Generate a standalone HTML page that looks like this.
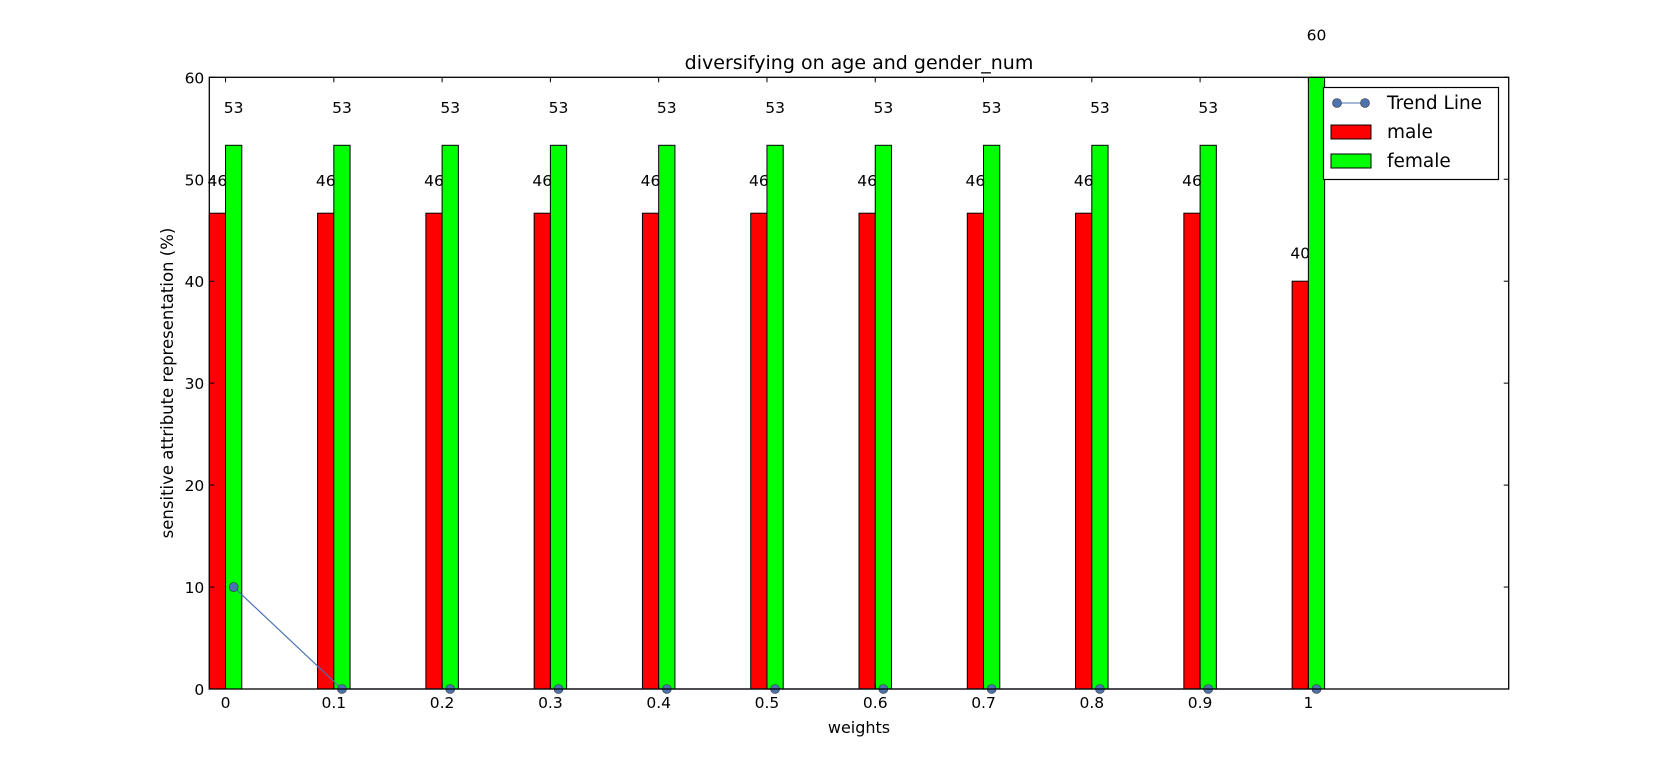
<!DOCTYPE html>
<html><head><meta charset="utf-8"><style>
body{margin:0;background:#fff}
svg{display:block;font-family:"DejaVu Sans","Liberation Sans",sans-serif}
</style></head><body>
<svg id="chart" width="1675" height="765" xmlns="http://www.w3.org/2000/svg">
<rect width="1675" height="765" fill="#fff"/>
<g id="plot"></g>
<text x="859" y="69" font-size="19" text-anchor="middle">diversifying on age and gender_num</text>
<text x="859" y="733" font-size="16" text-anchor="middle">weights</text>
<text transform="translate(173,383) rotate(-90)" font-size="16.5" text-anchor="middle">sensitive attribute representation (%)</text>
<g>
<rect x="1323.5" y="87.5" width="175" height="92" fill="#fff" stroke="#000" stroke-width="1.2"/>
<g>
<line x1="1337" y1="103" x2="1365" y2="103" stroke="#4c72b0" stroke-width="1"/>
<circle cx="1337" cy="103" r="4.5" fill="#4c72b0" stroke="#333" stroke-width="0.6"/>
<circle cx="1365" cy="103" r="4.5" fill="#4c72b0" stroke="#333" stroke-width="0.6"/>
<text x="1387" y="109" font-size="18.5">Trend Line</text></g>
<g>
<rect x="1331" y="125" width="40" height="14" fill="#ff0000" stroke="#000"/>
<text x="1387" y="138" font-size="18.5">male</text></g>
<g>
<rect x="1331" y="154" width="40" height="14" fill="#00ff00" stroke="#000"/>
<text x="1387" y="167" font-size="18.5">female</text></g>
</g>
</svg>
<script>
const categories=["0","0.1","0.2","0.3","0.4","0.5","0.6","0.7","0.8","0.9","1"];
const maleValues=[46.67,46.67,46.67,46.67,46.67,46.67,46.67,46.67,46.67,46.67,40];
const femaleValues=[53.33,53.33,53.33,53.33,53.33,53.33,53.33,53.33,53.33,53.33,60];
const trendValues=[10,0,0,0,0,0,0,0,0,0,0];
const yTicks=[0,10,20,30,40,50,60];

const NS="http://www.w3.org/2000/svg";
const L=209.3,R=1508.7,T=77.3,B=689;
const XMIN=0,XMAX=1.2,YMIN=0,YMAX=60,BW=0.015;
const xs=v=>L+(v-XMIN)/(XMAX-XMIN)*(R-L);
const ys=v=>B-(v-YMIN)/(YMAX-YMIN)*(B-T);
const g=document.getElementById('plot');
function mk(tag,attrs,parent){const e=document.createElementNS(NS,tag);for(const k in attrs)e.setAttribute(k,attrs[k]);(parent||g).appendChild(e);return e;}

categories.forEach((c,i)=>{
  const x0=i*0.1;
  const m=mk('rect',{x:xs(x0),y:ys(maleValues[i]),width:xs(x0+BW)-xs(x0),height:ys(0)-ys(maleValues[i]),fill:'#ff0000',stroke:'#000','stroke-width':1});
  
  
  const f=mk('rect',{x:xs(x0+BW),y:ys(femaleValues[i]),width:xs(x0+2*BW)-xs(x0+BW),height:ys(0)-ys(femaleValues[i]),fill:'#00ff00',stroke:'#000','stroke-width':1});
  
  
  const ml=mk('text',{x:xs(x0+BW/2),y:ys(maleValues[i]*1.07)+6,'font-size':15.5,'text-anchor':'middle'});
  ml.textContent=String(Math.floor(maleValues[i]));
  
  
  const fl=mk('text',{x:xs(x0+1.5*BW),y:ys(femaleValues[i]*1.07)+6,'font-size':15.5,'text-anchor':'middle'});
  fl.textContent=String(Math.floor(femaleValues[i]));
  
  
});
const pts=trendValues.map((v,i)=>xs(i*0.1+1.5*BW)+','+ys(v)).join(' ');
const pl=mk('polyline',{points:pts,fill:'none',stroke:'#4c72b0','stroke-width':1.2});


trendValues.forEach((v,i)=>{
  const c=mk('circle',{cx:xs(i*0.1+1.5*BW),cy:ys(v),r:4.5,fill:'#4c72b0',stroke:'#333','stroke-width':0.6});
  
  
});
const fr=mk('rect',{x:L,y:T,width:R-L,height:B-T,fill:'none',stroke:'#000','stroke-width':1.3});


categories.forEach((c,i)=>{
  const x=xs(i*0.1+BW);
  mk('line',{x1:x,y1:B,x2:x,y2:B-5,stroke:'#000'});
  mk('line',{x1:x,y1:T,x2:x,y2:T+5,stroke:'#000'});
  const t=mk('text',{x:x,y:B+19,'font-size':15.5,'text-anchor':'middle'});
  t.textContent=c;
  
  
});
yTicks.forEach(v=>{
  const y=ys(v);
  mk('line',{x1:L,y1:y,x2:L+5,y2:y,stroke:'#000'});
  mk('line',{x1:R,y1:y,x2:R-5,y2:y,stroke:'#000'});
  const t=mk('text',{x:L-5,y:y+6,'font-size':15.5,'text-anchor':'end'});
  t.textContent=String(v);
  
  
});
</script>
</body></html>
